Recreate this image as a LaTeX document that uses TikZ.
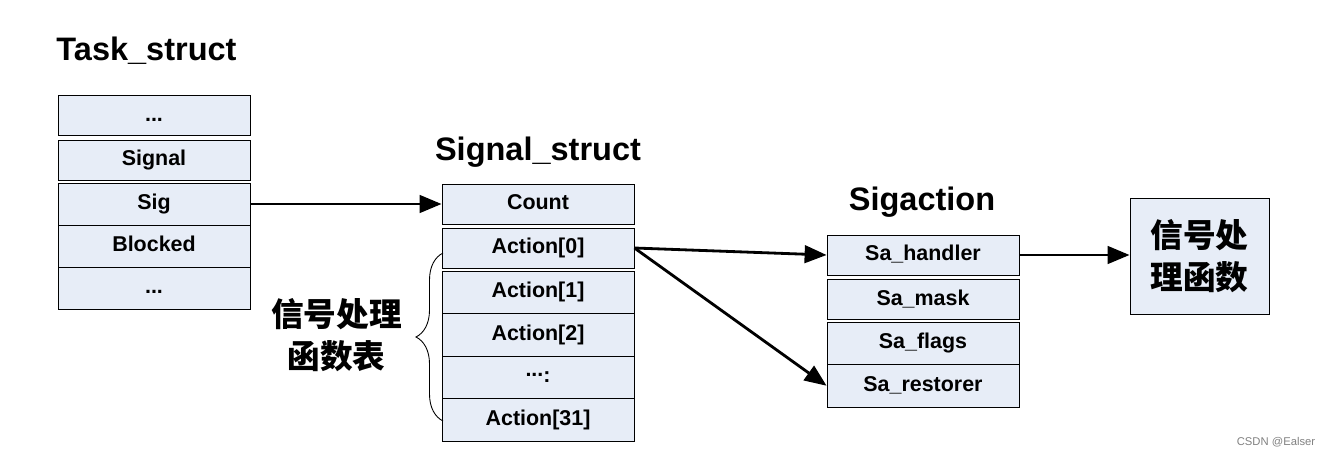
\documentclass[tikz,border=0pt]{standalone}
\usepackage{fontspec}
\setmainfont{Liberation Sans}
\newfontfamily\cjk{Noto Sans CJK SC}
\usetikzlibrary{arrows.meta,decorations.pathreplacing}
\definecolor{cellfill}{RGB}{231,237,247}

\begin{document}
\begin{tikzpicture}[x=0.02cm,y=-0.02cm,
	cell/.style={draw,line width=0.5pt,fill=cellfill,minimum width=3.84cm,minimum height=0.84cm,inner sep=0pt,text height=8.6pt,text depth=2.2pt,font=\fontsize{12.2}{14}\selectfont\bfseries},
	single/.style={cell,minimum height=0.80cm},
	title/.style={anchor=base,font=\fontsize{18.5}{22}\selectfont\bfseries},
	cjklabel/.style={align=center,font=\cjk\bfseries\fontsize{18.6}{23.5}\selectfont},
	ptr/.style={line width=1.6pt,-{Triangle[length=12.5pt,width=10pt]}}]
	\useasboundingbox (0,0) rectangle (1329,456);
	% task_struct
	\node[title] (tasktitle) at (146.5,61) {Task\_struct};
	\node[single] (tdots1) at (154,115.5) {...};
	\node[single] (tsignal) at (154,160) {Signal};
	\node[cell] (tsig) at (154,204) {Sig};
	\node[cell] (tblocked) at (154,246) {Blocked};
	\node[cell] (tdots2) at (154,288) {...};
	% signal_struct
	\node[title] (sigtitle) at (538,160) {Signal\_struct};
	\node[single] (count) at (538,204) {Count};
	\node[single] (act0) at (538,248) {Action[0]};
	\node[cell,minimum height=0.85cm] (act1) at (538,292.25) {Action[1]};
	\node[cell,minimum height=0.85cm] (act2) at (538,334.75) {Action[2]};
	\node[cell,minimum height=0.85cm] (actdots) at (538,377.25) {\raisebox{0.55ex}{...}:};
	\node[cell,minimum height=0.85cm] (act31) at (538,419.75) {Action[31]};
	% sigaction
	\node[title] (sactitle) at (922,211) {Sigaction};
	\node[single] (handler) at (923,255) {Sa\_handler};
	\node[single] (mask) at (923,299.5) {Sa\_mask};
	\node[cell,minimum height=0.85cm] (flags) at (923,343.25) {Sa\_flags};
	\node[cell,minimum height=0.85cm] (restorer) at (923,385.75) {Sa\_restorer};
	% handler function
	\node[draw,line width=0.5pt,fill=cellfill,minimum width=2.78cm,minimum height=2.32cm,inner sep=0pt,cjklabel] (func) at (1199.5,256) {信号处\\理函数};
	% table brace
	\coordinate (bracebot) at (443,421);
	\coordinate (bracetop) at (443,253);
	\draw[line width=0.5pt,decorate,decoration={brace,amplitude=0.54cm}] (bracebot) to (bracetop);
	\node[cjklabel] (tablelabel) at (336.5,335) {信号处理\\函数表};
	% pointers
	\draw[ptr] (tsig.east) to (count.west);
	\draw[ptr] (act0.east) to (handler.west);
	\draw[ptr] (act0.east) to (restorer.west);
	\draw[ptr] (handler.east) to (func.west |- handler.east);
	\node[gray,font=\fontsize{6.4}{8}\selectfont] (mark) at (1276,442) {CSDN @Ealser};
\end{tikzpicture}
\end{document}
